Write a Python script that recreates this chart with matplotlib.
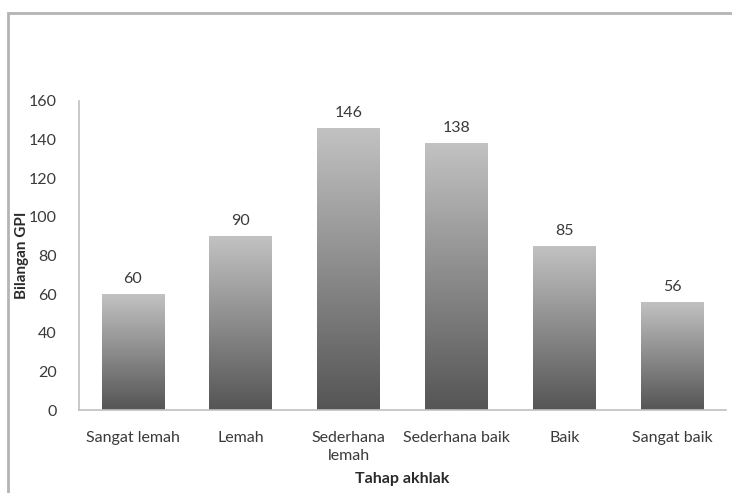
import numpy as np
import matplotlib
matplotlib.use("Agg")
import matplotlib.pyplot as plt
from matplotlib.patches import Rectangle
from matplotlib.colors import LinearSegmentedColormap

# Data
categories = ["Sangat lemah", "Lemah", "Sederhana\nlemah", "Sederhana baik", "Baik", "Sangat baik"]
values = [60, 90, 146, 138, 85, 56]
y_ticks = [0, 20, 40, 60, 80, 100, 120, 140, 160]

plt.rcParams['font.family'] = ['Lato', 'DejaVu Sans']
W, H = 732, 493
fig = plt.figure(figsize=(W / 100, H / 100), dpi=100)

# outer frame (only top/left edges visible)
fig.patches.append(Rectangle((8 / W, -0.1), 1.2, 1 - 13 / H + 0.1, transform=fig.transFigure,
                             fill=False, edgecolor="#b4b4b4", linewidth=2))

ax = fig.add_axes([79 / W, 1 - 410 / H, (726 - 79) / W, (410 - 101) / H])
x = np.arange(len(categories))
width = 0.58
bars = ax.bar(x, values, width=width, color="none", edgecolor="none")

cmap = LinearSegmentedColormap.from_list("g", ["#555555", "#c2c2c2"])
grad = np.linspace(0, 1, 256).reshape(-1, 1)
for b in bars:
    x0, y0 = b.get_x(), b.get_y()
    w, h = b.get_width(), b.get_height()
    im = ax.imshow(grad, cmap=cmap, aspect="auto", origin="lower",
                   extent=[x0, x0 + w, y0, y0 + h], zorder=2)
    im.set_clip_path(b)
    ax.annotate(f"{int(h)}", (x0 + w / 2, h), xytext=(0, 6), textcoords="offset points",
                ha="center", va="bottom", fontsize=11.5, color="#3a3a3a")

ax.set_xlim(-0.5, len(categories) - 0.5)
ax.set_ylim(0, 160)
ax.set_yticks(y_ticks)
ax.set_xticks(x)
ax.set_xticklabels(categories, fontsize=11.5, color="#3a3a3a", linespacing=1.4)
ax.tick_params(axis="y", labelsize=11.5, labelcolor="#3a3a3a", length=0, pad=16)
ax.tick_params(axis="x", length=0, pad=15)
for s in ["top", "right"]:
    ax.spines[s].set_visible(False)
for s in ["left", "bottom"]:
    ax.spines[s].set_color("#c0c0c0")
    ax.spines[s].set_linewidth(1.2)
ax.set_ylabel("Bilangan GPI", fontsize=11, fontweight="bold", color="#2a2a2a")
ax.set_xlabel("Tahap akhlak", fontsize=11.5, fontweight="bold", color="#2a2a2a")
ax.yaxis.set_label_coords(-0.077, 0.5)
ax.xaxis.set_label_coords(0.5, -0.2)

fig.savefig("out.png", dpi=100)
